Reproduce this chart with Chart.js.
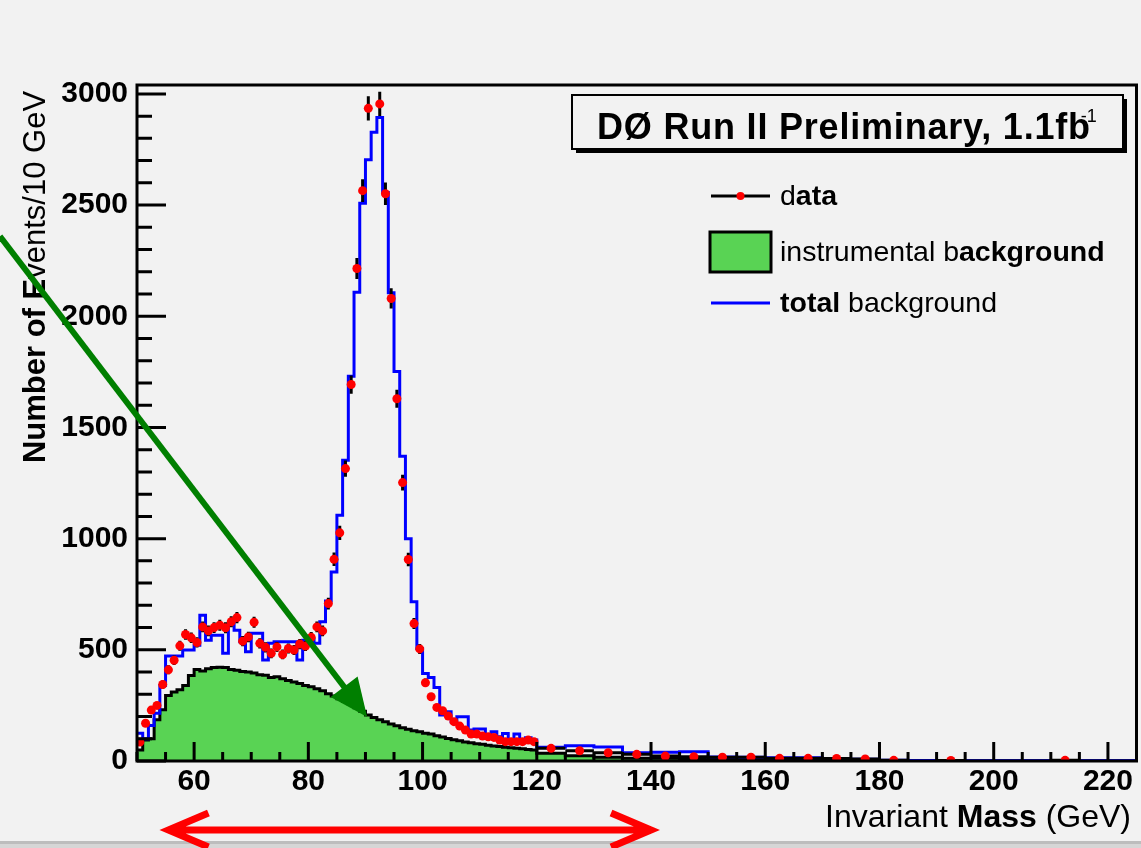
<!DOCTYPE html>
<html>
<head>
<meta charset="utf-8">
<title>Invariant Mass</title>
<script src="https://cdn.jsdelivr.net/npm/chart.js@4.4.1/dist/chart.umd.min.js"></script>
<style>
  html, body { margin: 0; padding: 0; background: #f2f2f2; overflow: hidden; }
  canvas { display: block; }
</style>
</head>
<body>
<canvas id="mass" width="1141" height="848"></canvas>
<script>
// bin low edges: 1 GeV bins up to 120, then 5 GeV bins up to 225
const binEdges = [];
for (let m = 50; m < 120; m++) binEdges.push(m);
for (let m = 120; m <= 225; m += 5) binEdges.push(m);

// events per bin (null = empty bin, not drawn)
const dataCounts = [
  85, 170, 229, 250, 344, 410, 453, 518, 569, 554,
  533, 603, 585, 600, 611, 599, 626, 645, 539, 558,
  624, 529, 511, 484, 513, 479, 506, 499, 526, 517,
  556, 603, 585, 708, 907, 1026, 1315, 1693, 2215, 2565,
  2935, 3110, 2955, 2551, 2080, 1629, 1252, 906, 618, 504,
  352, 289, 241, 226, 202, 177, 157, 139, 121, 121,
  112, 109, 106, 94, 87, 87, 87, 87, 94, 87,
  // 5 GeV bins from 120
  57, 46, 37, 30, 22, 19, 17, 17, 12, 12,
  11, 9, 3, null, 2, null, null, null, 3, null, null
];

const instrBkg = [
  49, 95, 100, 185, 230, 295, 310, 320, 340, 385,
  412, 405, 415, 421, 422, 420, 412, 408, 403, 400,
  396, 388, 386, 376, 379, 370, 362, 355, 348, 340,
  334, 325, 316, 302, 292, 280, 268, 255, 240, 224,
  207, 196, 186, 176, 166, 158, 150, 143, 136, 131,
  125, 121, 113, 108, 101, 96, 91, 86, 82, 78,
  75, 71, 68, 65, 62, 60, 57, 55, 52, 50,
  35, 24, 17, 12, 12, 9, 8, 6, 5, 4,
  3, 3, 2, 2, 1, 1, 1, 1, 1, 1, 1
];

const totalBkg = [
  125, 100, 160, 215, 340, 472, 472, 472, 499, 499,
  521, 656, 543, 566, 566, 484, 618, 588, 536, 491,
  574, 574, 454, 529, 536, 536, 536, 536, 454, 543,
  548, 530, 626, 719, 850, 1105, 1352, 1730, 2108, 2508,
  2704, 2827, 2894, 2557, 2106, 1752, 1370, 1000, 716, 506,
  394, 376, 331, 207, 221, 177, 199, 199, 139, 144,
  144, 112, 132, 109, 124, 87, 121, 87, 105, 94,
  62, 69, 63, 37, 39, 42, 18, 17, 15, 15,
  8, 8, 3, 2, 2, 1, 1, 1, 1, 1, 1
];

const xTickLabels = [60, 80, 100, 120, 140, 160, 180, 200, 220];
const yTickLabels = [0, 500, 1000, 1500, 2000, 2500, 3000];

// annotation arrows, in GeV / events
const greenArrow = { from: [26, 2360], to: [90.3, 198] };
const redSpan = [55.5, 140];

const FONT = '"Liberation Sans", Arial, Helvetica, sans-serif';
const GREEN = '#59d354';

// points for a step histogram: one per low edge plus the last high edge
function histPoints(values) {
  let pts = values.map((v, i) => ({ x: binEdges[i], y: v }));
  pts.push({ x: binEdges[values.length], y: values[values.length - 1] });
  return pts;
}

function centerPoints(values) {
  return values.map((v, i) => ({ x: (binEdges[i] + binEdges[i + 1]) / 2, y: v }));
}

// text made of pieces with different weights
function runsWidth(ctx, runs, size) {
  let w = 0;
  runs.forEach(r => {
    ctx.font = r[1] + ' ' + size + 'px ' + FONT;
    w += ctx.measureText(r[0]).width;
  });
  return w;
}

function drawRuns(ctx, runs, x, y, size) {
  runs.forEach(r => {
    ctx.font = r[1] + ' ' + size + 'px ' + FONT;
    ctx.fillText(r[0], x, y);
    x += ctx.measureText(r[0]).width;
  });
  return x;
}

// page background and the grey strip at the bottom
const backdrop = {
  id: 'backdrop',
  beforeDraw(chart) {
    const ctx = chart.ctx;
    ctx.save();
    ctx.fillStyle = '#f2f2f2';
    ctx.fillRect(0, 0, chart.width, chart.height);
    ctx.fillStyle = '#bdbdbd';
    ctx.fillRect(0, chart.height - 7, chart.width, 3);
    ctx.fillStyle = '#d6d6d6';
    ctx.fillRect(0, chart.height - 4, chart.width, 4);
    ctx.restore();
  }
};

// sqrt(N) error bars under the data markers
const errorBars = {
  id: 'errorBars',
  beforeDatasetDraw(chart, args) {
    if (args.index !== 0) return;
    const ctx = chart.ctx, x = chart.scales.x, y = chart.scales.y, a = chart.chartArea;
    ctx.save();
    ctx.beginPath();
    ctx.rect(a.left, a.top, a.width, a.height);
    ctx.clip();
    ctx.strokeStyle = '#000';
    ctx.lineWidth = 3;
    dataCounts.forEach((n, i) => {
      if (!n) return;
      const err = Math.sqrt(n);
      const px = x.getPixelForValue((binEdges[i] + binEdges[i + 1]) / 2);
      const py = y.getPixelForValue(n);
      ctx.beginPath();
      ctx.moveTo(px, y.getPixelForValue(n - err));
      ctx.lineTo(px, y.getPixelForValue(n + err));
      ctx.moveTo(x.getPixelForValue(binEdges[i]), py);
      ctx.lineTo(x.getPixelForValue(binEdges[i + 1]), py);
      ctx.stroke();
    });
    ctx.restore();
  }
};

// frame with inward ticks
const frameTicks = {
  id: 'frameTicks',
  afterDatasetsDraw(chart) {
    const ctx = chart.ctx, a = chart.chartArea, x = chart.scales.x, y = chart.scales.y;
    ctx.save();
    ctx.strokeStyle = '#000';
    ctx.lineWidth = 3;
    ctx.beginPath();
    for (let m = x.min; m <= x.max; m += 5) {
      const px = x.getPixelForValue(m);
      const len = xTickLabels.includes(m) ? 19 : 9;
      ctx.moveTo(px, a.bottom);
      ctx.lineTo(px, a.bottom - len);
    }
    for (let v = 0; v <= y.max; v += 100) {
      const py = y.getPixelForValue(v);
      const len = v % 500 === 0 ? 29 : 15;
      ctx.moveTo(a.left, py);
      ctx.lineTo(a.left + len, py);
    }
    ctx.stroke();
    ctx.strokeRect(a.left, a.top, a.width, a.height);
    ctx.restore();
  }
};

// axis titles, header box and legend
const labels = {
  id: 'labels',
  afterDraw(chart) {
    const ctx = chart.ctx;
    ctx.save();
    ctx.fillStyle = '#000';
    ctx.textBaseline = 'alphabetic';

    // y title
    const yRuns = [['Number of E', 'bold'], ['vents/10 GeV', 'normal']];
    ctx.save();
    ctx.translate(45, 277);
    ctx.rotate(-Math.PI / 2);
    drawRuns(ctx, yRuns, -runsWidth(ctx, yRuns, 31) / 2, 0, 31);
    ctx.restore();

    // x title
    const xRuns = [['Invariant ', 'normal'], ['Mass', 'bold'], [' (GeV)', 'normal']];
    drawRuns(ctx, xRuns, 1131 - runsWidth(ctx, xRuns, 32), 827, 32);

    // header box with shadow
    ctx.fillStyle = '#000';
    ctx.fillRect(576, 99, 551, 54);
    ctx.fillStyle = '#f2f2f2';
    ctx.fillRect(572, 95, 551, 54);
    ctx.strokeStyle = '#000';
    ctx.lineWidth = 2;
    ctx.strokeRect(572, 95, 551, 54);
    ctx.fillStyle = '#000';
    ctx.letterSpacing = '0.8px';
    const end = drawRuns(ctx, [['DØ Run II Preliminary, 1.1fb', 'bold']], 597, 139, 36);
    ctx.letterSpacing = '0px';
    drawRuns(ctx, [['-1', 'normal']], end - 10, 122, 18);

    // legend
    const sx0 = 711, sx1 = 770, tx = 780;
    ctx.textBaseline = 'middle';
    chart.data.datasets.forEach(ds => {
      const ry = ds.legendY;
      if (ds.label === 'data') {
        ctx.strokeStyle = '#000';
        ctx.lineWidth = 3;
        ctx.beginPath();
        ctx.moveTo(sx0, ry); ctx.lineTo(sx1, ry);
        ctx.stroke();
        ctx.fillStyle = ds.pointBackgroundColor;
        ctx.beginPath();
        ctx.arc((sx0 + sx1) / 2, ry, 4, 0, Math.PI * 2);
        ctx.fill();
      } else if (ds.fill) {
        ctx.fillStyle = ds.backgroundColor;
        ctx.fillRect(sx0 - 1, ry - 20, sx1 - sx0 + 2, 40);
        ctx.strokeStyle = ds.borderColor;
        ctx.lineWidth = 3;
        ctx.strokeRect(sx0 - 1, ry - 20, sx1 - sx0 + 2, 40);
      } else {
        ctx.strokeStyle = ds.borderColor;
        ctx.lineWidth = 3;
        ctx.beginPath();
        ctx.moveTo(sx0, ry); ctx.lineTo(sx1, ry);
        ctx.stroke();
      }
      ctx.fillStyle = '#000';
      drawRuns(ctx, ds.legendRuns, tx, ry + 1, 28.5);
    });
    ctx.restore();
  }
};

// the two arrows drawn over the plot
const arrows = {
  id: 'arrows',
  afterDraw(chart) {
    const ctx = chart.ctx, x = chart.scales.x, y = chart.scales.y, a = chart.chartArea;
    ctx.save();

    const x0 = x.getPixelForValue(greenArrow.from[0]), y0 = y.getPixelForValue(greenArrow.from[1]);
    const x1 = x.getPixelForValue(greenArrow.to[0]), y1 = y.getPixelForValue(greenArrow.to[1]);
    const ang = Math.atan2(y1 - y0, x1 - x0);
    const head = 38, half = 17;
    const bx = x1 - head * Math.cos(ang), by = y1 - head * Math.sin(ang);
    ctx.strokeStyle = '#007f00';
    ctx.fillStyle = '#007f00';
    ctx.lineWidth = 6;
    ctx.beginPath();
    ctx.moveTo(x0, y0);
    ctx.lineTo(bx + 4 * Math.cos(ang), by + 4 * Math.sin(ang));
    ctx.stroke();
    ctx.beginPath();
    ctx.moveTo(x1, y1);
    ctx.lineTo(bx + half * Math.sin(ang), by - half * Math.cos(ang));
    ctx.lineTo(bx - half * Math.sin(ang), by + half * Math.cos(ang));
    ctx.closePath();
    ctx.fill();

    // double arrow under the axis
    const ry = a.bottom + 69;
    const l = x.getPixelForValue(redSpan[0]), r = x.getPixelForValue(redSpan[1]);
    ctx.strokeStyle = '#ff0000';
    ctx.lineWidth = 7;
    ctx.lineJoin = 'miter';
    ctx.beginPath();
    ctx.moveTo(l + 3, ry); ctx.lineTo(r - 3, ry);
    ctx.moveTo(l + 40, ry - 17); ctx.lineTo(l, ry); ctx.lineTo(l + 40, ry + 17);
    ctx.moveTo(r - 40, ry - 17); ctx.lineTo(r, ry); ctx.lineTo(r - 40, ry + 17);
    ctx.stroke();
    ctx.restore();
  }
};

Chart.defaults.font.family = FONT;
Chart.defaults.color = '#000';

let ctx = document.getElementById('mass');

const massChart = new Chart(ctx, {
  data: {
    datasets: [{
      type: 'scatter',
      label: 'data',
      data: centerPoints(dataCounts),
      pointRadius: 4.5,
      pointHoverRadius: 4.5,
      pointBackgroundColor: '#ff0000',
      pointBorderWidth: 0,
      order: 1,
      legendY: 196,
      legendRuns: [['d', 'normal'], ['ata', 'bold']]
    }, {
      type: 'line',
      label: 'instrumental background',
      data: histPoints(instrBkg),
      stepped: true,
      fill: 'origin',
      backgroundColor: GREEN,
      borderColor: '#000000',
      borderWidth: 3,
      pointRadius: 0,
      order: 3,
      legendY: 252,
      legendRuns: [['instrumental b', 'normal'], ['ackground', 'bold']]
    }, {
      type: 'line',
      label: 'total background',
      data: histPoints(totalBkg),
      stepped: true,
      fill: false,
      borderColor: '#0000ff',
      borderWidth: 3,
      pointRadius: 0,
      order: 2,
      legendY: 303,
      legendRuns: [['total', 'bold'], [' background', 'normal']]
    }]
  },
  options: {
    responsive: false,
    animation: false,
    devicePixelRatio: 1,
    layout: { padding: { top: 85, right: 4, left: 0, bottom: 0 } },
    plugins: {
      legend: { display: false },
      tooltip: { enabled: false }
    },
    scales: {
      x: {
        type: 'linear',
        min: 50,
        max: 225,
        grid: { display: false, drawTicks: false },
        border: { display: false },
        afterFit: s => { s.height = 87; },
        afterBuildTicks: s => { s.ticks = xTickLabels.map(v => ({ value: v })); },
        ticks: {
          padding: 3,
          maxRotation: 0,
          autoSkip: false,
          font: { size: 30, weight: 'bold' },
          callback: v => String(v)
        }
      },
      y: {
        type: 'linear',
        min: 0,
        max: 3040,
        grid: { display: false, drawTicks: false },
        border: { display: false },
        afterFit: s => { s.width = 137; },
        afterBuildTicks: s => { s.ticks = yTickLabels.map(v => ({ value: v })); },
        ticks: {
          padding: 9,
          font: { size: 30, weight: 'bold' },
          callback: v => String(v)
        }
      }
    }
  },
  plugins: [backdrop, errorBars, frameTicks, labels, arrows]
});
</script>
</body>
</html>
